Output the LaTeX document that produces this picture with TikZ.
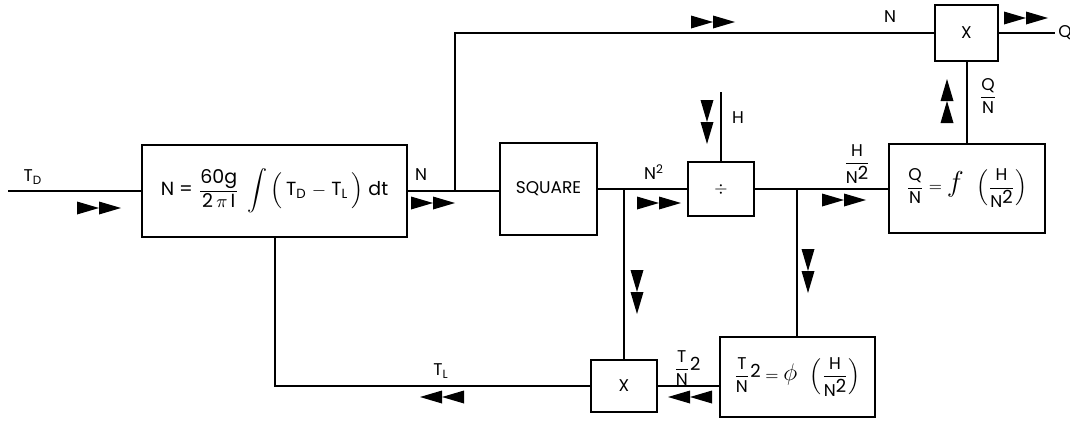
\documentclass[tikz,border=0pt]{standalone}
\usepackage{fontspec}
\setmainfont{Poppins}
\usetikzlibrary{calc}
\newcommand{\mfr}[2]{\displaystyle\frac{\hbox{#1}}{\hbox{#2}}}
\newcommand{\myfr}[2]{$\mfr{#1}{#2}$}
\newcommand{\mysq}{\raisebox{0.35ex}{\small 2}}
\tikzset{
  blk/.style={draw, line width=1pt, inner sep=0pt, outer sep=0pt},
  wire/.style={line width=1pt},
  lbl/.style={inner sep=0pt},
  dblR/.pic={\fill (-22,-6.5)--(0,0)--(-22,6.5)--cycle; \fill (0,-6.5)--(22,0)--(0,6.5)--cycle;},
  dblL/.pic={\fill (22,-6.5)--(0,0)--(22,6.5)--cycle; \fill (0,-6.5)--(-22,0)--(0,6.5)--cycle;},
  dblD/.pic={\fill (-6.5,-22)--(0,0)--(6.5,-22)--cycle; \fill (-6.5,0)--(0,22)--(6.5,0)--cycle;},
  dblU/.pic={\fill (-6.5,22)--(0,0)--(6.5,22)--cycle; \fill (-6.5,0)--(0,-22)--(6.5,0)--cycle;},
}
\begin{document}
\begin{tikzpicture}[x=0.5pt,y=-0.5pt,font=\fontsize{8.5}{10}\selectfont]
\useasboundingbox (0,0) rectangle (1070,428);
% blocks
\node[blk, minimum width=132.5pt, minimum height=46pt, font=\fontsize{9.5}{11}\selectfont] (big) at (274.5,191)
  {N = $\mfr{60g}{2\,$\pi$\,I}\;\int\left(\hbox{\,T\textsubscript{D} $-$ T\textsubscript{L}\,}\vphantom{\Big(}\right)$ dt};
\node[blk, minimum width=48.5pt, minimum height=46pt] (sq) at (548.5,189) {SQUARE};
\node[blk, minimum width=33pt, minimum height=27pt] (div) at (721,189) {$\div$};
\node[blk, minimum width=78pt, minimum height=44.5pt] (qn) at (966.5,188) {$\mfr{Q}{N} = \hbox{\Large$f$}\;\;\left(\mfr{H}{N\mysq}\right)$};
\node[blk, minimum width=31.5pt, minimum height=28pt] (mtop) at (966.5,33) {X};
\node[blk, minimum width=77.5pt, minimum height=40pt] (phi) at (797,377) {$\mfr{T}{N}\hbox{\mysq} = \hbox{\large$\phi$}\;\;\left(\mfr{H}{N\mysq}\right)$};
\node[blk, minimum width=33pt, minimum height=26pt] (mbot) at (624,386) {X};
% coordinates
\coordinate (in) at (8,191);
\coordinate (b1) at (455,191);
\coordinate (b2) at (624,189);
\coordinate (b3) at (797,189);
\coordinate (hin) at (721,92);
\coordinate (qout) at (1055,33);
% wires
\draw[wire] (in) -- (big.west);
\draw[wire] (big.east) -- (b1) -- (sq.west |- b1);
\draw[wire] (b1) |- (mtop.west);
\draw[wire] (sq.east |- b2) -- (b2) -- (div.west);
\draw[wire] (hin) -- (div.north);
\draw[wire] (div.east) -- (b3) -- (qn.west |- b3);
\draw[wire] (mtop.east) -- (qout);
\draw[wire] (qn.north) -- (mtop.south);
\draw[wire] (b2) -- (mbot.north);
\draw[wire] (b3) -- (phi.north);
\draw[wire] (phi.west |- mbot.east) -- (mbot.east);
\draw[wire] (mbot.west) -| (big.south);
% labels
\node[lbl] (ltd) at (33,177) {T\textsubscript{D}};
\node[lbl] (ln1) at (421,175) {N};
\node[lbl] (ln2) at (654,172) {N\textsuperscript{2}};
\node[lbl] (lh) at (738,118) {H};
\node[lbl] (lhn) at (857,164) {\myfr{H}{N\mysq}};
\node[lbl] (ln3) at (890,17) {N};
\node[lbl, anchor=west] (lq) at (1058,33) {Q};
\node[lbl] (lqn) at (988,96) {\myfr{Q}{N}};
\node[lbl] (ltl) at (441,371) {T\textsubscript{L}};
\node[lbl] (ltn) at (687,368) {\myfr{T}{N}\mysq};
% double arrowheads
\pic at (99,208) {dblR};
\pic at (433,203) {dblR};
\pic at (713,22) {dblR};
\pic at (1026,18) {dblR};
\pic at (659,203) {dblR};
\pic at (844,200) {dblR};
\pic at (947,101) {dblU};
\pic at (707,122) {dblD};
\pic at (808,271) {dblD};
\pic at (637,292) {dblD};
\pic at (690,397) {dblL};
\pic at (442,397) {dblL};
\end{tikzpicture}
\end{document}
